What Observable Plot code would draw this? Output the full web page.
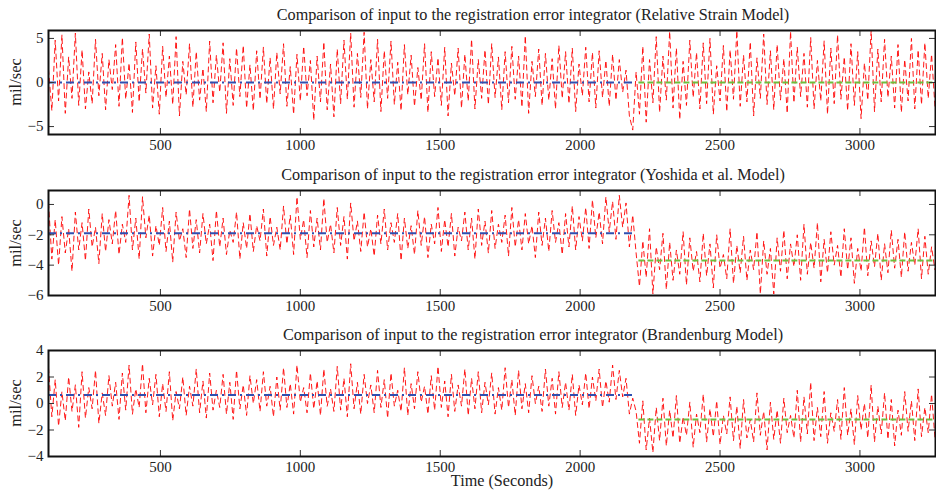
<!DOCTYPE html>
<html><head><meta charset="utf-8">
<script src="https://cdn.jsdelivr.net/npm/d3@7"></script>
<script src="https://cdn.jsdelivr.net/npm/@observablehq/plot@0.6"></script>
<style>
body{margin:0;background:#fff;}
#root{position:relative;width:936px;height:492px;overflow:hidden;font-family:"Liberation Serif",serif;}
#root svg{position:absolute;left:0;}
.t{position:absolute;white-space:nowrap;font-size:16.2px;line-height:1;color:#222;}
</style></head><body><div id="root"></div>
<script>
// sampling of the recorded signal
const tStart = 100, tStep = 12;
const xTicks = [500, 1000, 1500, 2000, 2500, 3000];
const xLabel = "Time (Seconds)";
const yLabel = "mil/sec";
const switchTime = 2200, switchTimeAfter = 2210, tEnd = 3270;

const titles = [
  "Comparison of input to the registration error integrator (Relative Strain Model)",
  "Comparison of input to the registration error integrator (Yoshida et al. Model)",
  "Comparison of input to the registration error integrator (Brandenburg Model)"
];
const yTicks1 = [-5, 0, 5];
const yTicks2 = [-6, -4, -2, 0];
const yTicks3 = [-4, -2, 0, 2, 4];

const meanBefore = [0.0, -1.9, 0.65];
const meanAfter = [0.0, -3.7, -1.2];

const relStrain = [
  1.5,-3.2,4.8,-2.1,5.4,-3.5,2.9,-1.8,5.6,-2.6,
  3.7,-3.0,1.2,-2.4,4.9,-1.5,3.3,-3.1,2.6,-0.8,
  4.3,-2.7,5.1,-1.9,2.2,-3.4,4.6,-2.2,3.8,-1.2,
  5.5,-2.9,1.9,-3.6,4.1,-1.7,3.0,-2.5,5.2,-3.8,
  2.4,-1.4,4.4,-2.8,3.5,-2.0,1.6,-3.3,4.7,-2.3,
  3.1,-1.1,4.5,-3.5,2.7,-2.6,3.9,-1.6,4.2,-2.9,
  2.0,-3.2,3.6,-1.9,4.0,-2.4,2.8,-3.0,3.4,-1.3,
  4.4,-2.7,1.8,-3.6,3.2,-2.1,4.1,-1.5,2.5,-4.3,
  3.0,-2.2,4.6,-3.1,2.1,-3.9,3.8,-2.4,4.8,-1.9,
  5.6,-2.8,3.3,-1.7,5.7,-3.0,2.6,-2.2,4.9,-3.3,
  3.6,-1.8,4.7,-2.5,2.3,-3.2,4.3,-1.4,3.1,-2.7,
  1.7,-2.0,4.4,-3.4,3.5,-1.6,2.8,-2.6,4.0,-3.8,
  2.2,-1.5,3.9,-2.9,3.2,-2.1,4.9,-3.0,2.6,-1.8,
  3.7,-2.5,4.4,-1.7,2.9,-3.1,3.5,-2.3,4.1,-1.9,
  3.0,-2.8,5.3,-3.5,2.4,-1.6,3.8,-2.6,3.3,-2.0,
  2.7,-3.0,4.2,-1.8,3.5,-2.4,3.9,-3.3,2.1,-1.5,
  4.0,-2.2,3.4,-2.9,3.6,-1.7,2.5,-2.7,3.2,-2.0,
  2.6,-1.1,1.4,-3.8,-5.4,
  1.2,-3.6,4.1,-4.5,2.6,-2.3,5.2,-3.4,3.0,-2.0,
  5.8,-2.9,3.9,-4.2,2.4,-2.6,4.8,-1.7,3.4,-3.0,
  4.5,-2.4,5.0,-3.6,1.9,-2.1,4.2,-3.3,3.7,-1.9,
  5.9,-2.7,3.1,-2.2,4.6,-3.8,2.8,-1.8,5.5,-2.5,
  3.6,-3.1,4.3,-2.0,2.7,-3.5,5.8,-2.3,4.0,-1.6,
  3.3,-2.8,5.1,-3.0,2.5,-2.1,4.7,-3.6,3.9,-2.4,
  5.4,-1.9,2.9,-3.2,4.4,-2.6,3.5,-4.1,2.2,-2.0,
  5.9,-3.3,3.8,-2.2,4.9,-1.7,3.0,-2.9,4.3,-3.4,
  2.6,-2.1,5.0,-3.0,3.7,-2.5,4.5,-1.8,3.2,-2.7
];

const yoshida = [
  0.1,-3.6,-1.0,-4.0,-0.8,-3.2,-1.6,-4.4,-0.5,-3.0,
  -1.2,-3.7,-0.3,-2.8,-1.5,-3.9,-0.6,-3.1,-1.0,-2.6,
  -0.4,-3.3,-1.3,-2.5,0.6,-3.0,-0.9,-3.6,0.5,-2.2,
  -0.7,-3.4,-1.4,-2.7,-0.2,-3.1,-1.1,-3.8,-0.5,-2.4,
  -1.6,-3.5,-0.3,-2.9,-1.0,-3.2,-0.6,-2.6,-1.3,-3.7,
  -0.4,-2.8,-0.9,-3.3,-1.7,-2.5,-0.5,-3.6,-1.2,-2.9,
  -0.6,-3.1,-1.4,-2.4,-0.3,-3.4,-0.8,-2.7,-1.5,-3.0,
  -0.1,-2.6,-0.7,-3.3,0.5,-2.3,-1.0,-3.5,-0.4,-2.8,
  -0.9,-3.0,0.4,-2.5,-1.3,-3.2,-0.2,-2.7,-0.8,-3.6,
  0.1,-2.4,-1.1,-3.1,-0.5,-2.8,-1.6,-3.4,-0.7,-2.6,
  -0.3,-3.0,-1.2,-2.5,-0.6,-3.7,-0.9,-2.9,-1.4,-3.3,
  -0.4,-2.7,-0.8,-3.5,-1.3,-2.6,-0.2,-3.1,-1.0,-2.8,
  -0.6,-3.4,-1.5,-2.4,-0.5,-3.0,-0.9,-3.6,-0.3,-2.7,
  -1.1,-3.2,-0.4,-2.9,-1.3,-2.5,-0.7,-3.4,-0.2,-2.8,
  -1.0,-3.0,-0.6,-2.6,-1.4,-3.5,-0.5,-2.7,-0.9,-3.1,
  -0.4,-2.5,-1.2,-3.3,-0.6,-2.8,-0.1,-3.0,-0.8,-2.4,
  -0.2,-2.9,0.3,-2.2,-0.5,-2.6,0.5,-1.8,0.2,-2.3,
  0.6,-1.5,0.1,-2.8,-0.7,
  -3.2,-5.4,-2.4,-4.8,-1.6,-5.9,-2.8,-4.3,-1.9,-5.6,
  -2.5,-5.0,-3.0,-4.6,-1.8,-5.3,-2.2,-4.4,-3.1,-5.1,
  -1.9,-4.7,-2.6,-5.5,-2.0,-4.2,-3.3,-4.9,-1.6,-5.2,
  -2.7,-4.5,-2.1,-5.0,-3.0,-4.3,-1.8,-5.9,-2.4,-4.6,
  -2.9,-5.9,-2.2,-4.4,-1.7,-4.9,-2.6,-4.1,-2.0,-5.0,
  -1.3,-4.6,-2.5,-4.2,-1.2,-5.1,-2.3,-4.5,-1.8,-4.0,
  -2.7,-4.8,-1.6,-4.3,-2.2,-5.2,-2.9,-4.4,-1.5,-4.7,
  -2.4,-4.1,-1.9,-5.0,-2.6,-4.5,-1.7,-4.2,-2.3,-4.8,
  -1.8,-4.4,-2.5,-4.0,-1.6,-4.9,-2.1,-4.6,-2.8,-4.3
];

const brandenburg = [
  2.7,-1.0,1.8,-1.7,0.9,-1.3,2.0,-0.6,1.4,-1.8,
  2.4,-1.1,1.2,-0.4,2.5,-1.5,0.8,-0.9,2.1,-0.2,
  1.6,-1.2,2.3,-0.5,2.9,-0.8,1.1,-0.3,3.0,-0.7,
  1.9,-0.1,2.2,-1.0,1.5,-0.6,2.4,-1.3,0.9,-0.4,
  2.0,-0.9,1.3,-0.2,2.6,-0.7,1.7,-1.1,2.3,-0.5,
  1.0,-0.3,2.2,-0.8,1.6,-1.2,2.5,-0.4,1.4,-0.9,
  2.1,0.0,1.8,-0.6,2.4,-0.2,1.3,-1.0,2.0,-0.5,
  2.7,-0.3,1.5,-0.8,2.9,0.1,1.2,-0.7,2.3,-0.4,
  1.7,-0.9,2.6,-0.2,1.1,-0.6,2.8,-0.5,1.9,-1.0,
  3.0,-0.4,1.6,-0.8,2.2,0.0,1.4,-0.7,2.5,-0.3,
  1.8,-1.1,2.3,-0.2,1.0,-0.6,2.7,-0.9,1.5,-0.4,
  2.4,0.1,1.3,-0.8,2.1,-0.5,2.8,-0.3,1.7,-1.0,
  2.2,-0.6,1.4,-0.2,2.6,-0.9,1.9,-0.4,2.4,-0.7,
  1.6,-0.1,2.3,-0.8,1.2,-0.5,2.7,-0.3,1.8,-0.9,
  2.5,-0.4,1.5,-0.7,2.1,0.0,1.3,-0.6,2.6,-0.2,
  1.9,-0.8,2.4,-0.3,1.6,-0.5,2.2,-0.9,1.4,-0.1,
  2.3,-0.4,2.0,0.2,2.6,-0.3,1.7,0.1,2.9,0.3,
  2.5,0.5,1.9,-0.8,0.4,
  -0.6,-3.0,0.2,-3.5,-1.1,-3.7,-0.3,-2.8,0.4,-3.2,
  -0.5,-2.6,0.6,-3.0,-1.0,-2.4,0.1,-3.3,-0.8,-2.2,
  0.7,-2.9,-0.4,-2.5,0.2,-3.1,-0.9,-2.3,0.5,-2.8,
  -0.2,-3.4,0.3,-2.6,-1.2,-2.9,0.8,-2.4,-0.6,-3.5,
  0.1,-2.7,-0.5,-3.0,0.4,-2.2,-0.9,-2.6,1.0,-2.9,
  0.5,-2.3,1.6,-2.8,-0.3,-2.5,0.9,-3.0,-0.7,-2.1,
  0.3,-2.7,1.2,-2.4,-0.4,-3.1,0.6,-2.0,0.0,-2.6,
  1.4,-2.9,-0.2,-2.3,0.8,-2.7,0.3,-3.2,-0.5,-2.4,
  0.9,-2.1,0.2,-2.8,1.1,-2.5,-0.3,-2.2,0.7,-2.6
];

const W = 936, ML = 48, MR = 1;
const panels = [
  {values: relStrain, yDomain: [-5.9, 5.9], yTicks: yTicks1, top: 0, height: 160, mt: 30, mb: 26},
  {values: yoshida, yDomain: [-6, 0.92], yTicks: yTicks2, top: 160, height: 160, mt: 30, mb: 25},
  {values: brandenburg, yDomain: [-4, 4], yTicks: yTicks3, top: 320, height: 172, mt: 30, mb: 36}
];

const root = document.getElementById("root");
const font = "'Liberation Serif', serif";

panels.forEach((p, k) => {
  const data = p.values.map((v, i) => ({t: tStart + i * tStep, v}));
  const fw = W - ML - MR;
  const fh = p.height - p.mt - p.mb;
  const means = [{y: meanBefore[k], x1: tStart, x2: switchTime}];
  const meansAfter = [{y: meanAfter[k], x1: switchTimeAfter, x2: tEnd}];
  const svg = Plot.plot({
    width: W, height: p.height,
    marginLeft: ML, marginRight: MR, marginTop: p.mt, marginBottom: p.mb,
    style: {fontFamily: font, fontSize: "15px", color: "#222", background: "transparent", overflow: "visible"},
    x: {domain: [tStart, tEnd]},
    y: {domain: p.yDomain},
    marks: [
      Plot.lineY(data, {x: "t", y: "v", stroke: "#ff0000", strokeWidth: 0.9, strokeDasharray: "5,4", clip: true}),
      Plot.ruleY(means, {y: "y", x1: "x1", x2: "x2", stroke: "#2f4fb0", strokeWidth: 2, strokeDasharray: "8,4,2,4"}),
      Plot.ruleY(meansAfter, {y: "y", x1: "x1", x2: "x2", stroke: "#6cbf3c", strokeWidth: 2, strokeDasharray: "6,3"}),
      Plot.tickY(p.yTicks, {y: d => d, stroke: "#333", insetRight: fw - 6}),
      Plot.tickY(p.yTicks, {y: d => d, stroke: "#333", insetLeft: fw - 6}),
      Plot.tickX(xTicks, {x: d => d, stroke: "#333", insetBottom: fh - 6}),
      Plot.tickX(xTicks, {x: d => d, stroke: "#333", insetTop: fh - 6}),
      Plot.axisY(p.yTicks, {tickSize: 0, tickPadding: 5, fontSize: 15, fill: "#222"}),
      Plot.axisX(xTicks, {tickSize: 0, tickPadding: 5, fontSize: 15, fill: "#222", tickFormat: d => String(d)}),
      Plot.frame({stroke: "#111", strokeWidth: 2})
    ]
  });
  svg.style.top = p.top + "px";
  root.appendChild(svg);

  const title = document.createElement("div");
  title.className = "t";
  title.textContent = titles[k];
  title.style.left = "533px";
  title.style.top = (p.top + p.mt - 23) + "px";
  title.style.transform = "translateX(-50%)";
  root.appendChild(title);

  const yl = document.createElement("div");
  yl.className = "t";
  yl.textContent = yLabel;
  yl.style.fontSize = "16.5px";
  yl.style.left = "16px";
  yl.style.top = (p.top + p.mt + fh / 2) + "px";
  yl.style.transform = "translate(-50%,-50%) rotate(-90deg)";
  root.appendChild(yl);
});

const xl = document.createElement("div");
xl.className = "t";
xl.textContent = xLabel;
xl.style.left = "502px";
xl.style.top = "473px";
xl.style.transform = "translateX(-50%)";
root.appendChild(xl);
</script>
</body></html>
